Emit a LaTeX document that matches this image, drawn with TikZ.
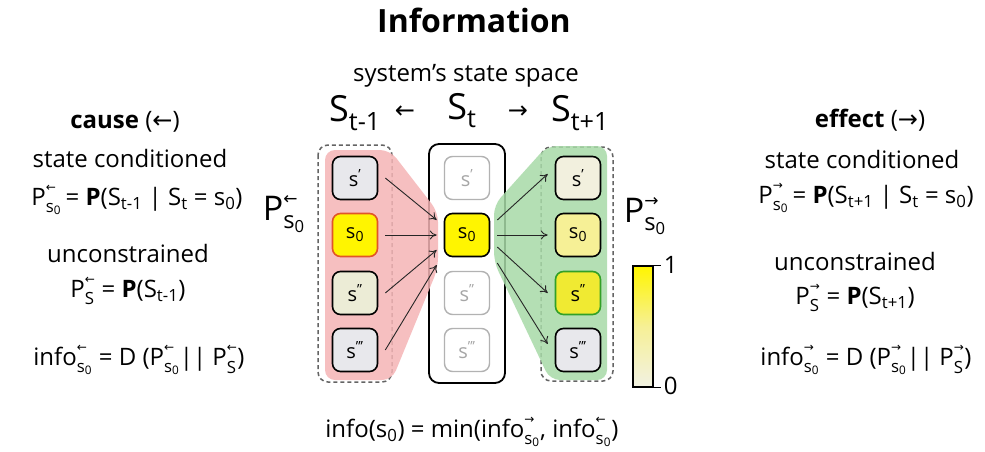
\documentclass[tikz,border=0pt]{standalone}
\usepackage{fontspec}
\usepackage{amsmath}
\setmainfont{Open Sans}
\newfontfamily\arrowfont{DejaVu Sans}
\usetikzlibrary{arrows.meta}

\newcommand\lar{{\arrowfont ←}}
\newcommand\rar{{\arrowfont →}}
\newcommand\sz{s\textsubscript{0}}
% stacked sub- and superscript for P and info
\newcommand\scr[2]{\ensuremath{_{\text{#1}}^{\raisebox{0.22em}{$\scriptscriptstyle\text{#2}$}}}}

\definecolor{pinkreg}{RGB}{245,180,182}
\definecolor{greenreg}{RGB}{168,218,168}
\definecolor{ylw}{RGB}{255,245,0}
\definecolor{lgray}{RGB}{232,232,236}
\definecolor{beige}{RGB}{236,236,214}
\definecolor{beigelt}{RGB}{242,240,222}
\definecolor{ylwlt}{RGB}{246,240,150}
\definecolor{ylwmid}{RGB}{240,234,50}
\definecolor{redborder}{RGB}{225,85,40}
\definecolor{grnborder}{RGB}{50,160,40}
\definecolor{dashgray}{RGB}{100,100,100}

\tikzset{
  statebox/.style={draw, line width=1.6pt, rounded corners=8pt,
    minimum width=45pt, minimum height=43pt, inner sep=0pt,
    font=\fontsize{20}{22}\selectfont},
  ghost/.style={statebox, draw=black!30, text=black!35, fill=white, line width=1.4pt},
  arr/.style={-{To[length=7pt,width=9pt]}, line width=0.9pt, black!85},
  dbox/.style={draw=dashgray, line width=1.5pt, rounded corners=10pt,
    dash pattern=on 4pt off 3pt},
  txt/.style={font=\fontsize{24}{28}\selectfont, inner sep=0pt},
  big/.style={font=\fontsize{36}{40}\selectfont, inner sep=0pt},
}

\begin{document}
\begin{tikzpicture}[x=1pt,y=-1pt]
\useasboundingbox (0,0) rectangle (985,451);
\fill[white] (0,0) rectangle (985,451);

% title and column headers
\node[font=\fontsize{32}{36}\selectfont\bfseries, inner sep=0pt] (title) at (474,20) {Information};
\node[txt] (space) at (466,76) {system’s state space};
\node[big] (hprev) at (355,113) {S\textsubscript{t-1}};
\node[txt] (hla) at (405,112) {\lar};
\node[big] (hnow) at (462,111) {S\textsubscript{t}};
\node[txt] (hra) at (518,112) {\rar};
\node[big] (hnext) at (580,113) {S\textsubscript{t+1}};

% state-space frames
\draw[dbox] (318,145) rectangle (392,382);
\draw[dbox] (541,147) rectangle (613,381);
\draw[line width=1.8pt, rounded corners=10pt] (429,144) rectangle (505,383);

% cause and effect repertoires
\fill[pinkreg, opacity=0.85, rounded corners=10pt]
  (325,150) -- (390,150) -- (438,212) -- (438,268) -- (392,380) -- (325,380) -- cycle;
\fill[greenreg, opacity=0.85, rounded corners=10pt]
  (547,146) -- (607,146) -- (607,380) -- (550,380) -- (494,262) -- (494,205) -- cycle;

% past states
\node[statebox, fill=lgray] (L1) at (355,178) {s\textsuperscript{’}};
\node[statebox, fill=ylw, draw=redborder] (L0) at (355,235) {\sz};
\node[statebox, fill=beige] (L2) at (355,293) {s\textsuperscript{’’}};
\node[statebox, fill=lgray] (L3) at (355,350) {s\textsuperscript{’’’}};

% present states
\node[ghost] (M1) at (467,178) {s\textsuperscript{’}};
\node[statebox, fill=ylw] (M0) at (467,235) {\sz};
\node[ghost] (M2) at (467,293) {s\textsuperscript{’’}};
\node[ghost] (M3) at (467,350) {s\textsuperscript{’’’}};

% future states
\node[statebox, fill=beigelt] (R1) at (578,178) {s\textsuperscript{’}};
\node[statebox, fill=ylwlt] (R0) at (578,235) {\sz};
\node[statebox, fill=ylwmid, draw=grnborder] (R2) at (578,293) {s\textsuperscript{’’}};
\node[statebox, fill=lgray] (R3) at (578,350) {s\textsuperscript{’’’}};

% transitions into the present state
\draw[arr] ([xshift=7pt]L1.east) -- ([xshift=-7pt,yshift=15pt]M0.west);
\draw[arr] ([xshift=7pt]L0.east) -- ([xshift=-7pt]M0.west);
\draw[arr] ([xshift=7pt]L2.east) -- ([xshift=-7pt,yshift=-15pt]M0.west);
\draw[arr] ([xshift=7pt]L3.east) -- ([xshift=-7pt,yshift=-30pt]M0.west);

% transitions out of the present state
\draw[arr] ([xshift=7pt,yshift=15pt]M0.east) -- ([xshift=-7pt,yshift=4pt]R1.west);
\draw[arr] ([xshift=7pt]M0.east) -- ([xshift=-7pt]R0.west);
\draw[arr] ([xshift=7pt,yshift=-12pt]M0.east) -- ([xshift=-7pt]R2.west);
\draw[arr] ([xshift=7pt,yshift=-28pt]M0.east) -- ([xshift=-7pt,yshift=6pt]R3.west);

% repertoire labels
\node[big, font=\fontsize{34}{38}\selectfont] (pcause) at (284,214) {P\scr{\sz}{\lar}};
\node[big, font=\fontsize{34}{38}\selectfont] (peffect) at (645,216) {P\scr{\sz}{\rar}};

% probability scale
\node[draw, line width=1.2pt, minimum width=20pt, minimum height=121pt, inner sep=0pt,
  top color=ylw, bottom color=beige!70!white, middle color=ylwlt] (bar) at (643,326.5) {};
\draw[line width=1.2pt] (bar.north east) -- ++(7pt,0) coordinate (tick1);
\draw[line width=1.2pt] (bar.south east) -- ++(7pt,0) coordinate (tick0);
\node[txt, anchor=west] (one) at ([xshift=3pt]tick1) {1};
\node[txt, anchor=west] (zero) at ([xshift=3pt,yshift=2pt]tick0) {0};

% cause side
\node[txt] (ctitle) at (125,122) {\textbf{cause} (\lar)};
\node[txt] (ccond) at (130,158) {state conditioned};
\node[txt] (cform) at (137,200) {P\scr{\sz}{\lar}\,= \textbf{P}(S\textsubscript{t-1} | S\textsubscript{t} = \sz)};
\node[txt] (cunc) at (128,253) {unconstrained};
\node[txt] (cunf) at (128,291) {P\scr{S}{\lar} = \textbf{P}(S\textsubscript{t-1})};
\node[txt] (cinfo) at (139,360) {info\scr{\sz}{\lar} = D (P\scr{\sz}{\lar}|| P\scr{S}{\lar})};

% effect side
\node[txt] (etitle) at (870,120) {\textbf{effect} (\rar)};
\node[txt] (econd) at (862,159) {state conditioned};
\node[txt] (eform) at (866,198) {P\scr{\sz}{\rar}\,= \textbf{P}(S\textsubscript{t+1} | S\textsubscript{t} = \sz)};
\node[txt] (eunc) at (855,261) {unconstrained};
\node[txt] (eunf) at (855,298) {P\scr{S}{\rar} = \textbf{P}(S\textsubscript{t+1})};
\node[txt] (einfo) at (866,360) {info\scr{\sz}{\rar} = D (P\scr{\sz}{\rar}|| P\scr{S}{\rar})};

% integrated information
\node[txt] (info) at (472,432) {info(\sz) = min(info\scr{\sz}{\rar}, info\scr{\sz}{\lar})};
\end{tikzpicture}
\end{document}
